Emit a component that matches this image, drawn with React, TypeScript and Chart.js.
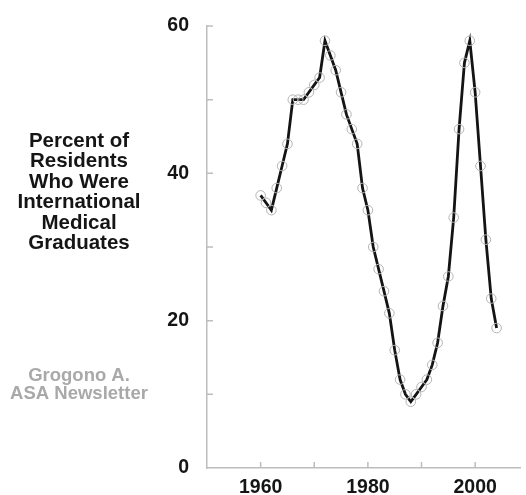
import React, { useEffect, useRef } from 'react';
import { Chart, registerables } from 'chart.js';

Chart.register(...registerables);

const years = [
  1960, 1961, 1962, 1963, 1964, 1965, 1966, 1967, 1968, 1969,
  1970, 1971, 1972, 1973, 1974, 1975, 1976, 1977, 1978, 1979,
  1980, 1981, 1982, 1983, 1984, 1985, 1986, 1987, 1988, 1989,
  1990, 1991, 1992, 1993, 1994, 1995, 1996, 1997, 1998, 1999,
  2000, 2001, 2002, 2003, 2004,
];
const percentIMG = [
  37, 36, 35, 38, 41, 44, 50, 50, 50, 51,
  52, 53, 58, 56, 54, 51, 48, 46, 44, 38,
  35, 30, 27, 24, 21, 16, 12, 10, 9, 10,
  11, 12, 14, 17, 22, 26, 34, 46, 55, 58,
  51, 41, 31, 23, 19,
];
const xTickLabels = [1960, 1980, 2000];
const yTickLabels = [0, 20, 40, 60];
const titleLines = ['Percent of', 'Residents', 'Who Were', 'International', 'Medical', 'Graduates'];
const sourceLines = ['Grogono A.', 'ASA Newsletter'];

const FONT = '"Liberation Sans", Arial, Helvetica, sans-serif';
const AXIS_COLOR = '#bdbdbd';

const decorPlugin = {
  id: 'decor',
  afterDraw(chart: any) {
    const { ctx, chartArea } = chart;
    const xs = chart.scales.x;
    const ys = chart.scales.y;
    ctx.save();
    ctx.strokeStyle = AXIS_COLOR;
    ctx.lineWidth = 1.5;
    ctx.beginPath();
    xs.ticks.forEach((t: any) => {
      if (t.value % 10 === 0 && t.value > xs.min) {
        const px = xs.getPixelForValue(t.value);
        ctx.moveTo(px, chartArea.bottom);
        ctx.lineTo(px, chartArea.bottom - 6);
      }
    });
    ys.ticks.forEach((t: any) => {
      if (t.value > 0) {
        const py = ys.getPixelForValue(t.value);
        ctx.moveTo(chartArea.left, py);
        ctx.lineTo(chartArea.left + 6, py);
      }
    });
    ctx.stroke();

    ctx.textAlign = 'center';
    ctx.textBaseline = 'alphabetic';
    ctx.fillStyle = '#151515';
    ctx.font = `bold 20.5px ${FONT}`;
    titleLines.forEach((line, i) => {
      ctx.fillText(line, 79, 146.5 + i * 20.5);
    });
    ctx.fillStyle = '#a9a9a9';
    ctx.font = `bold 18.5px ${FONT}`;
    sourceLines.forEach((line, i) => {
      ctx.fillText(line, 79, 380.5 + i * 18);
    });
    ctx.restore();
  },
};

export default function App() {
  const ref = useRef<HTMLCanvasElement | null>(null);

  useEffect(() => {
    if (!ref.current) return;
    const chart = new Chart(ref.current, {
      type: 'line',
      data: {
        labels: years,
        datasets: [
          {
            data: years.map((y, i) => ({ x: y, y: percentIMG[i] })),
            borderColor: '#141414',
            borderWidth: 2.8,
            tension: 0,
            pointRadius: 4.8,
            pointBorderColor: '#b3b3b3',
            pointBorderWidth: 1,
            pointBackgroundColor: 'rgba(0,0,0,0)',
            fill: false,
          },
        ],
      },
      options: {
        responsive: false,
        animation: false,
        devicePixelRatio: 1,
        layout: { padding: { top: 26, right: 0, bottom: 0, left: 0 } },
        plugins: { legend: { display: false }, tooltip: { enabled: false } },
        scales: {
          x: {
            type: 'linear',
            min: 1950,
            max: 2008.4,
            afterFit: (s: any) => {
              s.height = 27;
            },
            grid: { display: false },
            border: { display: true, color: AXIS_COLOR, width: 1.5 },
            ticks: {
              stepSize: 10,
              includeBounds: false,
              autoSkip: false,
              maxRotation: 0,
              padding: 0,
              color: '#151515',
              font: { family: FONT, size: 19.5, weight: 'bold' },
              callback: (v: any) => (xTickLabels.includes(Number(v)) ? String(v) : ''),
            },
          },
          y: {
            min: 0,
            max: 60,
            afterFit: (s: any) => {
              s.width = 207;
            },
            grid: { display: false },
            border: { display: true, color: AXIS_COLOR, width: 1.5 },
            ticks: {
              stepSize: 10,
              padding: 10,
              color: '#151515',
              font: { family: FONT, size: 19.5, weight: 'bold' },
              callback: (v: any) => (yTickLabels.includes(Number(v)) ? String(v) : ''),
            },
          },
        },
      },
      plugins: [decorPlugin],
    } as any);
    return () => chart.destroy();
  }, []);

  return (
    <div style={{ position: 'fixed', left: 0, top: 0, width: 526, height: 495, background: '#fff' }}>
      <canvas ref={ref} width={526} height={495} />
    </div>
  );
}
